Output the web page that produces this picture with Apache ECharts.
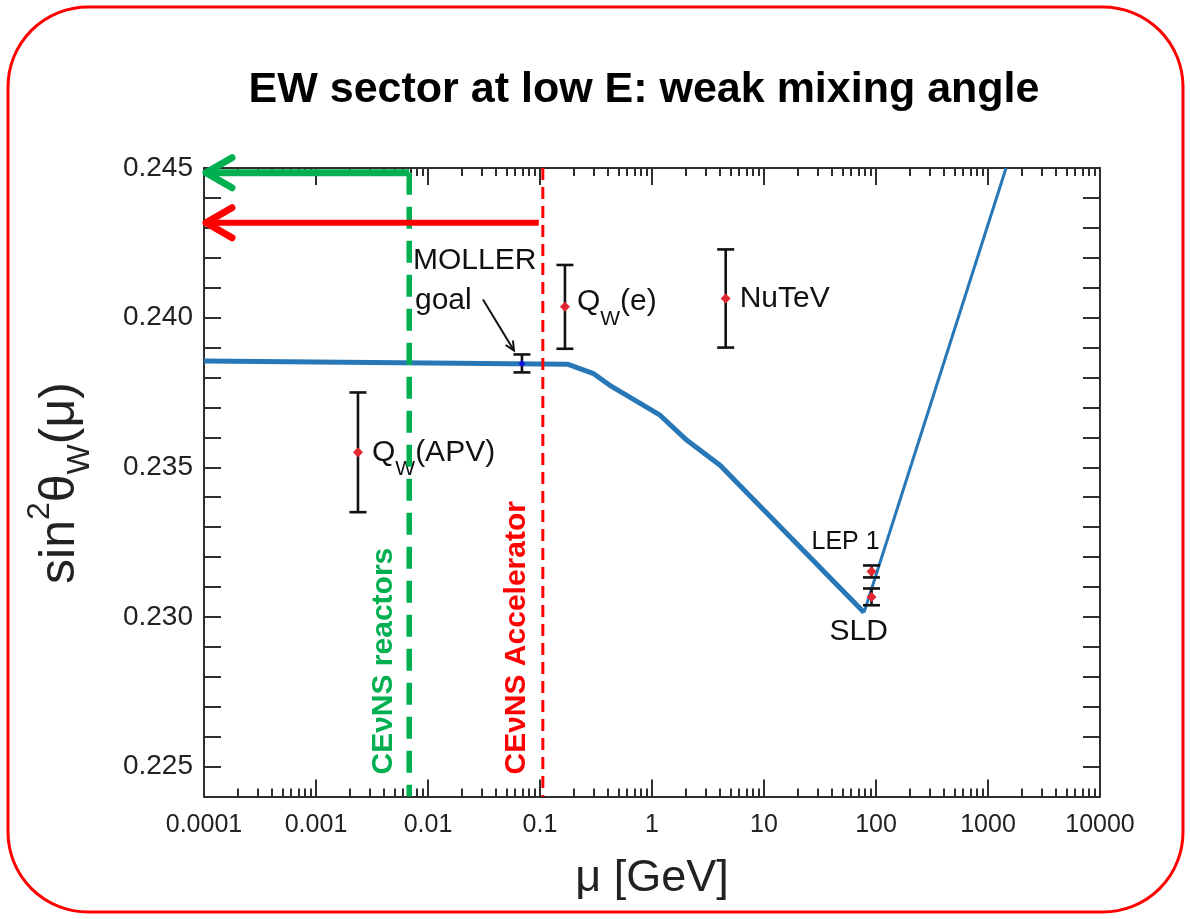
<!DOCTYPE html>
<html>
<head>
<meta charset="utf-8">
<script src="https://cdn.jsdelivr.net/npm/echarts@6/dist/echarts.min.js"></script>
<style>
  html, body { margin: 0; padding: 0; background: #ffffff; }
  #chart { width: 1190px; height: 919px; }
</style>
</head>
<body>
<div id="chart"></div>
<script>
// Running of sin^2(theta_W) with the scale mu (MS-bar), below the W mass
const runningMu  = [0.0001, 0.178, 0.297, 0.42, 1.18, 2.05, 4.05, 78.2];
const runningS2w = [0.23855, 0.23844, 0.23814, 0.23774, 0.23674, 0.2359, 0.23507, 0.23015];
// Rising branch above the W mass
const highMu  = [78.2, 1450];
const highS2w = [0.23015, 0.245];

// Measurements: name, scale mu [GeV], central value, uncertainty
const measNames = ['APV', 'MOLLER', 'QwE', 'NuTeV', 'LEP1', 'SLD'];
const measMu    = [0.00237, 0.069, 0.167, 4.55, 91.2, 91.2];
const measS2w   = [0.2355, 0.23847, 0.24036, 0.24064, 0.23152, 0.23067];
const measErr   = [0.002, 0.0003, 0.0014, 0.00164, 0.0002, 0.00028];

// CEvNS scales and the sensitivity levels they reach
const sensNames  = ['CEνNS reactors', 'CEνNS Accelerator'];
const sensMu     = [0.0068, 0.106];
const sensLevels = [0.24484, 0.24317];

// Axis labels
const xTickLabels = ['0.0001', '0.001', '0.01', '0.1', '1', '10', '100', '1000', '10000'];
const yTickLabels = ['0.225', '0.230', '0.235', '0.240', '0.245'];

const X_MIN = 0.0001, X_MAX = 10000;
const Y_MIN = 0.224, Y_MAX = 0.245;

const FONT = '"Liberation Sans", Arial, Helvetica, sans-serif';
const AXIS_COLOR = '#2e2e2e';
const CURVE_COLOR = '#2878b8';
const GREEN = '#00b050';
const RED = '#ff0000';

// log10 positions of the 2..9 minor ticks in every decade
const minorExp = [];
for (let d = -4; d < 4; d++) {
  for (let k = 2; k <= 9; k++) minorExp.push(d + Math.log10(k));
}

function pairs(xs, ys) { return xs.map((x, i) => [x, ys[i]]); }

// Subscript markup: "Q_W(e)" -> Q with subscript W
function withSub(label) {
  const m = label.match(/^(.*?)_(\w)(.*)$/);
  if (!m) return '{m|' + label + '}';
  return '{m|' + m[1] + '}{s|' + m[2] + '}{m|' + m[3] + '}';
}
const labelRich = {
  m: { font: '30px ' + FONT, lineHeight: 36 },
  s: { font: '21px ' + FONT, lineHeight: 22, padding: [34, 0, 0, 0] }
};

// Text beside each measurement, offsets in pixels from the marker
const measText = {
  APV:    { text: 'Q_W(APV)', dx: 14, dy: 0 },
  QwE:    { text: 'Q_W(e)',   dx: 12, dy: -5 },
  NuTeV:  { text: 'NuTeV',    dx: 14, dy: 0 },
  LEP1:   { text: 'LEP 1',    dx: -60, dy: -29, small: true },
  SLD:    { text: 'SLD',      dx: -42, dy: 35 }
};

function renderMeasurement(params, api) {
  const i = params.dataIndex;
  const name = measNames[i];
  const mu = api.value(0), v = api.value(1), e = api.value(2);
  const c = api.coord([mu, v]);
  const lo = api.coord([mu, v - e]);
  const hi = api.coord([mu, v + e]);
  const cap = 8.5;
  const barStyle = { stroke: '#111111', lineWidth: 2.6 };
  const d = name === 'MOLLER' ? 3.5 : 5;
  const children = [
    { type: 'line', shape: { x1: c[0], y1: hi[1], x2: c[0], y2: lo[1] }, style: barStyle },
    { type: 'line', shape: { x1: c[0] - cap, y1: hi[1], x2: c[0] + cap, y2: hi[1] }, style: barStyle },
    { type: 'line', shape: { x1: c[0] - cap, y1: lo[1], x2: c[0] + cap, y2: lo[1] }, style: barStyle },
    { type: 'polygon',
      shape: { points: [[c[0], c[1] - d], [c[0] + d, c[1]], [c[0], c[1] + d], [c[0] - d, c[1]]] },
      style: { fill: name === 'MOLLER' ? '#1515e0' : '#e3262f' } }
  ];
  const t = measText[name];
  if (t) {
    children.push({
      type: 'text', x: c[0] + t.dx, y: c[1] + t.dy,
      style: {
        text: t.small ? t.text : withSub(t.text),
        font: (t.small ? '25px ' : '30px ') + FONT,
        rich: t.small ? undefined : labelRich,
        fill: '#111111', align: 'left', textAlign: 'left',
        verticalAlign: 'middle', textVerticalAlign: 'middle'
      }
    });
  }
  if (name === 'MOLLER') {
    const txt = (s, dx, dy) => ({
      type: 'text', x: c[0] + dx, y: c[1] + dy,
      style: { text: s, font: '30px ' + FONT, fill: '#111111', align: 'left', textAlign: 'left',
               verticalAlign: 'middle', textVerticalAlign: 'middle' }
    });
    children.push(txt('MOLLER', -109, -103));
    children.push(txt('goal', -107, -63));
    const ax = c[0] - 8, ay = c[1] - 13;
    const bx = c[0] - 39, by = c[1] - 64;
    const ang = Math.atan2(ay - by, ax - bx);
    const hl = 10, ha = 0.45;
    const arrowStyle = { stroke: '#111111', lineWidth: 2, fill: null };
    children.push({ type: 'line', shape: { x1: bx, y1: by, x2: ax, y2: ay }, style: arrowStyle });
    children.push({ type: 'polyline', shape: { points: [
      [ax - hl * Math.cos(ang - ha), ay - hl * Math.sin(ang - ha)], [ax, ay],
      [ax - hl * Math.cos(ang + ha), ay - hl * Math.sin(ang + ha)] ] }, style: arrowStyle });
  }
  return { type: 'group', children };
}

// Open arrowhead at the left end of each sensitivity level
function renderArrowHead(params, api) {
  const i = params.dataIndex;
  const tip = api.coord([api.value(0), api.value(1)]);
  const color = i === 0 ? GREEN : RED;
  return {
    type: 'polyline',
    shape: { points: [[tip[0] + 28, tip[1] - 15], [tip[0] + 2, tip[1]], [tip[0] + 28, tip[1] + 15]] },
    style: { stroke: color, lineWidth: 7, fill: null, lineCap: 'round', lineJoin: 'round' }
  };
}

// Vertical captions beside the CEvNS scale lines
function renderSensLabel(params, api) {
  const i = params.dataIndex;
  const p = api.coord([api.value(0), api.value(1)]);
  return {
    type: 'text', x: p[0] - 26, y: p[1] - 22, rotation: Math.PI / 2,
    style: {
      text: sensNames[i], font: 'bold 30px ' + FONT, fill: i === 0 ? GREEN : RED,
      align: 'left', textAlign: 'left', verticalAlign: 'middle', textVerticalAlign: 'middle'
    }
  };
}

const tickStyle = { color: AXIS_COLOR, width: 2 };
const lineAxis = { show: true, onZero: false, lineStyle: { color: AXIS_COLOR, width: 2 } };

function logAxis(position, showLabels) {
  return {
    type: 'log', logBase: 10, min: X_MIN, max: X_MAX, position,
    axisLine: lineAxis,
    axisTick: { show: true, inside: true, length: 17, lineStyle: tickStyle },
    axisLabel: {
      show: showLabels, margin: 16, color: '#222222', fontSize: 25, fontFamily: FONT,
      formatter: v => xTickLabels[Math.round(Math.log10(v)) + 4]
    },
    splitLine: { show: false },
    name: showLabels ? 'μ [GeV]' : '',
    nameLocation: 'middle', nameGap: 60,
    nameTextStyle: { fontSize: 45, fontFamily: FONT, color: '#222222' }
  };
}
function minorAxis(position) {
  return {
    type: 'value', min: -4, max: 4, position,
    axisLine: { show: false, onZero: false },
    axisTick: { show: true, inside: true, length: 8, customValues: minorExp, lineStyle: tickStyle },
    axisLabel: { show: false },
    splitLine: { show: false }
  };
}
function yAxis(position, showLabels) {
  return {
    type: 'value', min: Y_MIN, max: Y_MAX, interval: 0.001, position,
    axisLine: lineAxis,
    axisTick: { show: true, inside: true, length: 17, lineStyle: tickStyle },
    axisLabel: {
      show: showLabels, margin: 11, color: '#222222', fontSize: 28, fontFamily: FONT,
      formatter: v => {
        const s = v.toFixed(3);
        return yTickLabels.indexOf(s) >= 0 ? s : '';
      }
    },
    splitLine: { show: false }
  };
}

const chart = echarts.init(document.getElementById('chart'), null, { renderer: 'canvas' });

chart.setOption({
  animation: false,
  backgroundColor: '#ffffff',
  grid: { left: 204, right: 90, top: 168, bottom: 122.5, containLabel: false, outerBoundsMode: 'none' },
  xAxis: [logAxis('bottom', true), logAxis('top', false), minorAxis('bottom'), minorAxis('top')],
  yAxis: [yAxis('left', true), yAxis('right', false)],
  graphic: [
    { type: 'rect', shape: { x: 8, y: 7, width: 1175, height: 905, r: 80 },
      style: { fill: null, stroke: RED, lineWidth: 3 }, silent: true },
    { type: 'text', x: 644, y: 90,
      style: { text: 'EW sector at low E: weak mixing angle', font: 'bold 43px ' + FONT, fill: '#000000',
               align: 'center', textAlign: 'center', verticalAlign: 'middle', textVerticalAlign: 'middle' } },
    { type: 'text', x: 60, y: 483, rotation: Math.PI / 2,
      style: {
        text: '{m|sin}{p|2}{m|θ}{b|W}{m|(μ)}',
        font: '50px ' + FONT, fill: '#222222',
        align: 'center', textAlign: 'center', verticalAlign: 'middle', textVerticalAlign: 'middle',
        rich: {
          m: { font: '50px ' + FONT, lineHeight: 58 },
          p: { font: '32px ' + FONT, lineHeight: 32, padding: [0, 0, 40, 0] },
          b: { font: '32px ' + FONT, lineHeight: 32, padding: [40, 0, 0, 0] }
        }
      } }
  ],
  series: [
    { type: 'line', name: 'running', data: pairs(runningMu, runningS2w), showSymbol: false, z: 2,
      lineStyle: { color: CURVE_COLOR, width: 5, join: 'round' }, silent: true },
    { type: 'line', name: 'high', data: pairs(highMu, highS2w), showSymbol: false, z: 2,
      lineStyle: { color: CURVE_COLOR, width: 3 }, silent: true },
    { type: 'custom', name: 'measurements', renderItem: renderMeasurement, z: 3,
      data: measMu.map((m, i) => [m, measS2w[i], measErr[i]]), silent: true },
    // CEvNS reactor scale and level
    { type: 'line', name: 'reactor', data: [[sensMu[0], sensLevels[0]], [sensMu[0], Y_MIN]],
      showSymbol: false, z: 4, silent: true,
      lineStyle: { color: GREEN, width: 5.5, type: [22, 12], cap: 'butt' } },
    { type: 'line', name: 'reactorLevel', data: [[sensMu[0], sensLevels[0]], [X_MIN, sensLevels[0]]],
      showSymbol: false, z: 4, silent: true, clip: false,
      lineStyle: { color: GREEN, width: 7 } },
    // CEvNS accelerator scale and level
    { type: 'line', name: 'accelerator', data: [[sensMu[1], Y_MAX], [sensMu[1], Y_MIN]],
      showSymbol: false, z: 4, silent: true,
      lineStyle: { color: RED, width: 3, type: [12, 7] } },
    { type: 'line', name: 'acceleratorLevel', data: [[sensMu[1] * 0.92, sensLevels[1]], [X_MIN, sensLevels[1]]],
      showSymbol: false, z: 4, silent: true, clip: false,
      lineStyle: { color: RED, width: 6 } },
    { type: 'custom', name: 'arrowHeads', renderItem: renderArrowHead, z: 5, silent: true,
      data: sensLevels.map(l => [X_MIN, l]) },
    { type: 'custom', name: 'sensLabels', renderItem: renderSensLabel, z: 5, silent: true,
      data: sensMu.map(m => [m, Y_MIN]) }
  ]
});
</script>
</body>
</html>
